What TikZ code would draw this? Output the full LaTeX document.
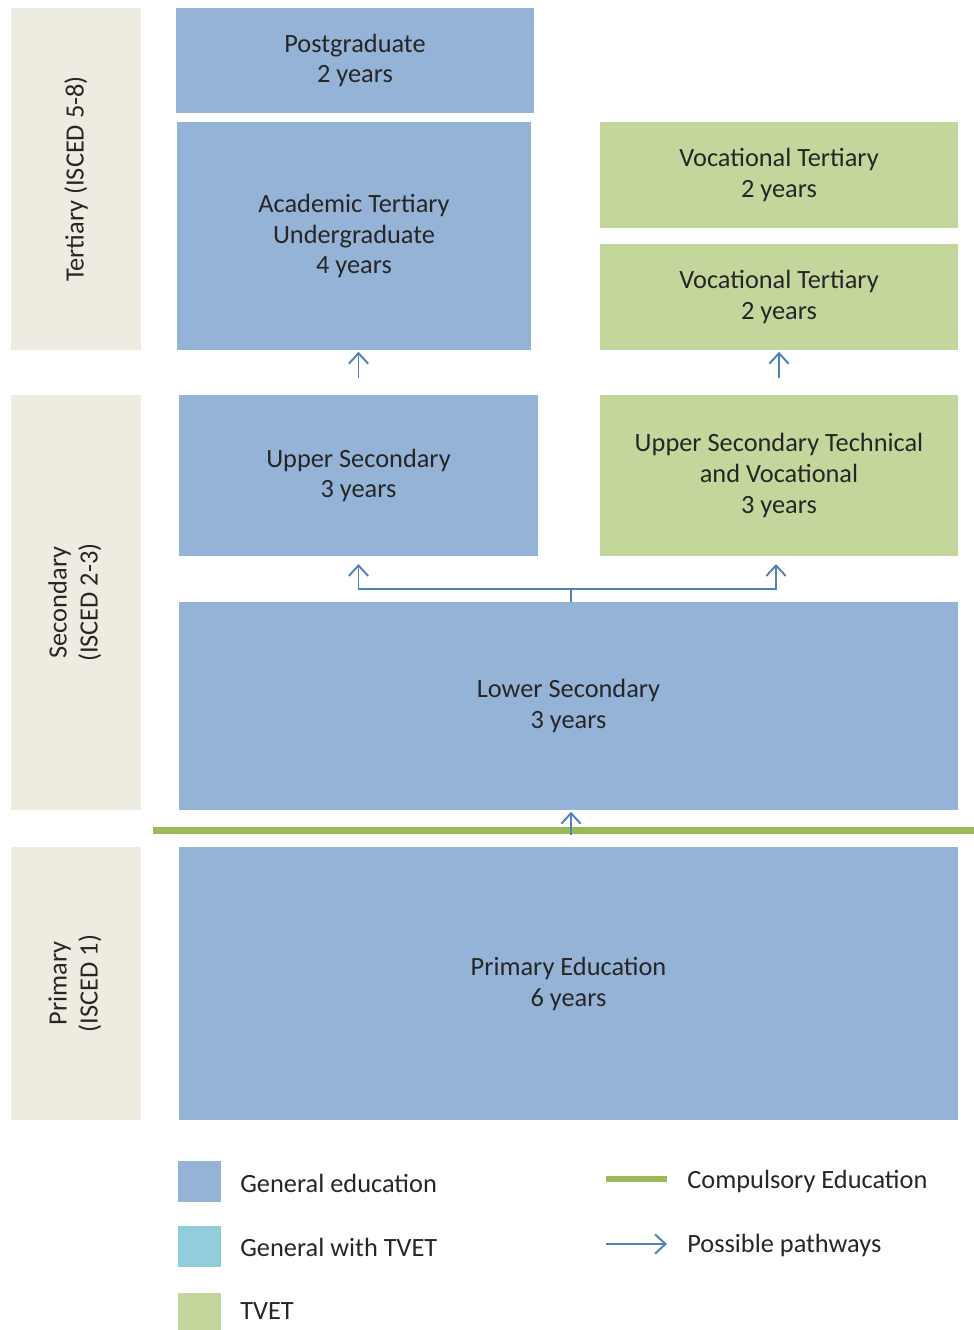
\documentclass[tikz,border=0pt]{standalone}
\usepackage{fontspec}
\setmainfont{Carlito}
\usetikzlibrary{positioning,arrows.meta}

\definecolor{genblue}{HTML}{95B3D7}
\definecolor{tvetgreen}{HTML}{C3D69B}
\definecolor{mixcyan}{HTML}{92CDDC}
\definecolor{levelbg}{HTML}{EEECE1}
\definecolor{compgreen}{HTML}{9BBB59}
\definecolor{pathblue}{HTML}{4F81BD}

\begin{document}
\begin{tikzpicture}[
        x=0.02cm, y=-0.02cm,
        % --- styles ---
        stage/.style={rectangle, outer sep=0pt, inner sep=2pt, align=center,
                      font=\fontsize{15}{17.6}\selectfont, text=black!85},
        general/.style={stage, fill=genblue},
        tvet/.style={stage, fill=tvetgreen},
        level/.style={rectangle, outer sep=0pt, fill=levelbg, minimum width=2.6cm,
                      align=center, font=\fontsize{15}{17.6}\selectfont, text=black!85},
        pathway/.style={draw=pathblue, line width=1.1pt,
                        -{Straight Barb[length=6pt, width=11pt, line width=1.1pt]}},
        compulsory/.style={draw=compgreen, line width=0.14cm},
        legbox/.style={rectangle, outer sep=0pt, minimum width=0.86cm, minimum height=0.82cm},
        legtext/.style={anchor=west, inner sep=0pt, font=\fontsize{15}{17}\selectfont, text=black!85}
    ]
    \useasboundingbox (0,0) rectangle (974,1330);

    % --- level labels ---
    \node[level, minimum height=6.84cm] (tertiary) at (76,179)
        {\rotatebox{90}{Tertiary (ISCED 5-8)}};
    \node[level, minimum height=8.3cm] (secondary) at (76,602.5)
        {\rotatebox{90}{\begin{tabular}{c}Secondary\\(ISCED 2-3)\end{tabular}}};
    \node[level, minimum height=5.46cm] (primarylvl) at (76,983.5)
        {\rotatebox{90}{\begin{tabular}{c}Primary\\(ISCED 1)\end{tabular}}};

    % --- stages ---
    \node[general, minimum width=7.16cm, minimum height=2.1cm] (post) at (355,60.5)
        {Postgraduate\\2 years};
    \node[general, minimum width=7.08cm, minimum height=4.56cm] (acad) at (354,236)
        {Academic Tertiary\\Undergraduate\\4 years};
    \node[tvet, minimum width=7.16cm, minimum height=2.12cm] (voctop) at (779,175)
        {Vocational Tertiary\\2 years};
    \node[tvet, minimum width=7.16cm, minimum height=2.12cm] (vocbot) at (779,297)
        {Vocational Tertiary\\2 years};
    \node[general, minimum width=7.18cm, minimum height=3.22cm] (upsec) at (358.5,475.5)
        {Upper Secondary\\3 years};
    \node[tvet, minimum width=7.16cm, minimum height=3.22cm] (uptech) at (779,475.5)
        {Upper Secondary Technical\\and Vocational\\3 years};
    \node[general, minimum width=15.58cm, minimum height=4.16cm] (lowsec) at (568.5,706)
        {Lower Secondary\\3 years};
    \node[general, minimum width=15.58cm, minimum height=5.46cm] (primary) at (568.5,983.5)
        {Primary Education\\6 years};

    % --- compulsory line ---
    \coordinate (compstart) at (153,830);
    \coordinate (compend) at (974,830);
    \draw[compulsory] (compstart) -- (compend);

    % --- pathways ---
    \coordinate (split) at (571,589);
    \draw[pathway, shorten <=0.24cm, shorten >=1pt] (primary.north -| split) -- (lowsec.south -| split);
    \draw[pathway, -] (lowsec.north -| split) -- (split);
    \draw[pathway, shorten >=0.16cm] (split) -| (upsec.south);
    \draw[pathway, shorten >=0.16cm] (split) -| ([xshift=-0.06cm]uptech.south);
    \draw[pathway, shorten <=0.34cm, shorten >=1pt] (upsec.north) -- (upsec.north |- acad.south);
    \draw[pathway, shorten <=0.34cm, shorten >=1pt] (uptech.north) -- (uptech.north |- vocbot.south);

    % --- legend ---
    \node[legbox, fill=genblue] (leggen) at (199.5,1181.5) {};
    \node[legbox, fill=mixcyan] (legmix) at (199.5,1246.5) {};
    \node[legbox, fill=tvetgreen, minimum height=0.74cm] (legtvet) at (199.5,1311.5) {};
    \node[legtext] at (240,1183) {General education};
    \node[legtext] at (240,1247) {General with TVET};
    \node[legtext] at (240,1311) {TVET};

    \coordinate (legcompa) at (606,1179);
    \coordinate (legcompb) at (667,1179);
    \draw[compulsory, line width=0.12cm] (legcompa) -- (legcompb);
    \node[legtext] at (687,1181) {Compulsory Education};

    \coordinate (legpatha) at (606,1244);
    \coordinate (legpathb) at (667,1244);
    \draw[pathway, line width=0.8pt] (legpatha) -- (legpathb);
    \node[legtext] at (687,1245) {Possible pathways};

\end{tikzpicture}
\end{document}
